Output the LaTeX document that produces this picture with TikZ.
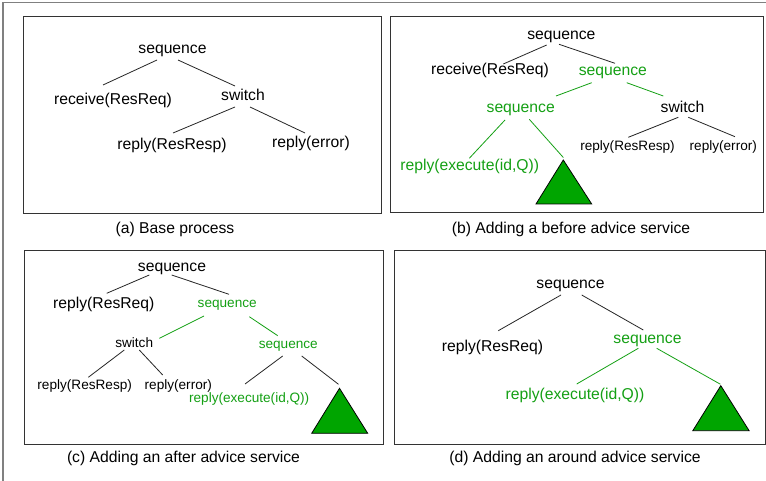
\documentclass[tikz,border=0pt]{standalone}
\usepackage{fontspec}
\setmainfont{Liberation Sans}
\usetikzlibrary{calc}
\definecolor{advgreen}{RGB}{20,160,20}
\definecolor{trigreen}{RGB}{0,165,0}
\tikzset{
  big/.style={font=\fontsize{15.7}{18}\selectfont, inner sep=0pt, anchor=base},
  small/.style={font=\fontsize{13.6}{16}\selectfont, inner sep=0pt, anchor=base},
  adv/.style={text=advgreen},
  link/.style={line width=0.8pt, draw=black!85},
  advlink/.style={line width=0.8pt, draw=advgreen},
  panel/.style={draw=black!80, line width=1pt},
  subtree/.style={draw=black, fill=trigreen, line width=0.8pt, line join=miter},
  captext/.style={font=\fontsize{15.7}{18}\selectfont, inner sep=0pt, anchor=base}
}
\begin{document}
\begin{tikzpicture}[x=1pt,y=-1pt]
\useasboundingbox (0,0) rectangle (766,481);
\fill[white] (0,0) rectangle (766,481);
% outer frame
\draw[black!50, line width=1.5pt] (766,2.5) -- (3,2.5) -- (3,481);

% panel frames
\draw[panel] (23,17) rectangle (381,214);
\draw[panel] (390,17) rectangle (763,213);
\draw[panel] (24,251) rectangle (383,444);
\draw[panel] (394,251) rectangle (765,444);

% ---------- (a) base process ----------
\node[big] (a1) at (172.5,54) {sequence};
\node[big] (a2) at (113,105) {receive(ResReq)};
\node[big] (a3) at (243,101) {switch};
\node[big] (a4) at (172,150) {reply(ResResp)};
\node[big] (a5) at (311,148) {reply(error)};
\draw[link] ($(a1.base)+(-15.5,6)$) -- ($(a2.base)+(-10,-20)$);
\draw[link] ($(a1.base)+(5.5,6)$) -- ($(a3.base)+(-8,-15)$);
\draw[link] ($(a3.base)+(-8,6)$) -- ($(a4.base)+(1,-17)$);
\draw[link] ($(a3.base)+(7,6)$) -- ($(a5.base)+(-6,-15)$);
\node[captext] (acap) at (175,234) {(a) Base process};

% ---------- (b) before advice ----------
\node[big] (b1) at (561.3,39.3) {sequence};
\node[big] (b2) at (490,75) {receive(ResReq)};
\node[big,adv] (b3) at (612.8,76) {sequence};
\node[big,adv] (b4) at (520.7,112.3) {sequence};
\node[big] (b5) at (682.5,112.3) {switch};
\node[big,adv] (b6) at (469.7,170.7) {reply(execute(id,Q))};
\node[small] (b7) at (627.5,150.7) {reply(ResResp)};
\node[small] (b8) at (723.3,150.7) {reply(error)};
\coordinate (bt) at (563.3,160);
\draw[subtree] (bt) -- ++(-27.3,44) -- ++(55.7,0) -- cycle;
\draw[link] ($(b1.base)+(-14.6,5.7)$) -- ($(b2.base)+(13.3,-11)$);
\draw[link] ($(b1.base)+(-2.3,5)$) -- ($(b3.base)+(2.2,-12.7)$);
\draw[advlink] ($(b3.base)+(-21.1,6.7)$) -- ($(b4.base)+(35.3,-16.3)$);
\draw[advlink] ($(b3.base)+(13.9,6.7)$) -- ($(b5.base)+(-19.2,-16.3)$);
\draw[advlink] ($(b4.base)+(-15.7,7.7)$) -- ($(b6.base)+(-0.4,-12.4)$);
\draw[advlink] ($(b4.base)+(8.6,7)$) -- ($(bt)+(0,-2.5)$);
\draw[link] ($(b5.base)+(-4.2,5)$) -- ($(b7.base)+(0.8,-13.4)$);
\draw[link] ($(b5.base)+(5.8,5)$) -- ($(b8.base)+(11.7,-14)$);
\node[captext] (bcap) at (571,233.5) {(b) Adding a before advice service};

% ---------- (c) after advice ----------
\node[big] (c1) at (172,271.5) {sequence};
\node[big] (c2) at (103.8,308.3) {reply(ResReq)};
\node[small,adv] (c3) at (227.2,307.7) {sequence};
\node[small] (c4) at (134.2,347.5) {switch};
\node[small,adv] (c5) at (288.3,348.7) {sequence};
\node[small] (c6) at (84.7,389) {reply(ResResp)};
\node[small] (c7) at (178.3,389) {reply(error)};
\node[small,adv] (c8) at (249.2,402.5) {reply(execute(id,Q))};
\coordinate (ct) at (339.5,388.3);
\draw[subtree] (ct) -- ++(-27.8,45) -- ++(56,0) -- cycle;
\draw[link] ($(c1.base)+(-22.7,3.5)$) -- ($(c2.base)+(2.9,-15)$);
\draw[link] ($(c1.base)+(-0.3,3.5)$) -- ($(c3.base)+(1.8,-13.4)$);
\draw[advlink] ($(c3.base)+(-23.2,8.3)$) -- ($(c4.base)+(25.1,-9.2)$);
\draw[advlink] ($(c3.base)+(22.1,9)$) -- ($(c5.base)+(-10.6,-13)$);
\draw[link] ($(c4.base)+(-9.9,2.5)$) -- ($(c6.base)+(3.6,-11.7)$);
\draw[link] ($(c4.base)+(5.1,2.5)$) -- ($(c7.base)+(-15.6,-14)$);
\draw[link] ($(c5.base)+(-5.6,7.3)$) -- ($(c8.base)+(-4.2,-18.5)$);
\draw[link] ($(c5.base)+(13.4,7.3)$) -- ($(ct)+(-1,-4)$);
\node[captext] (ccap) at (183.5,462) {(c) Adding an after advice service};

% ---------- (d) around advice ----------
\node[big] (d1) at (570.5,288.3) {sequence};
\node[big] (d2) at (492.5,351) {reply(ResReq)};
\node[big,adv] (d3) at (647.5,343.3) {sequence};
\node[big,adv] (d4) at (575,399.3) {reply(execute(id,Q))};
\coordinate (dt) at (720.8,385.7);
\draw[subtree] (dt) -- ++(-28,45) -- ++(56.3,0) -- cycle;
\draw[link] ($(d1.base)+(-9.5,6.7)$) -- ($(d2.base)+(5.8,-20.3)$);
\draw[link] ($(d1.base)+(11.2,6.7)$) -- ($(d3.base)+(-4.2,-13.3)$);
\draw[advlink] ($(d3.base)+(-9.2,5)$) -- ($(d4.base)+(1.7,-15.3)$);
\draw[advlink] ($(d3.base)+(9.2,5)$) -- ($(dt)+(-0.5,-1.5)$);
\node[captext] (dcap) at (575,462) {(d) Adding an around advice service};
\end{tikzpicture}
\end{document}
